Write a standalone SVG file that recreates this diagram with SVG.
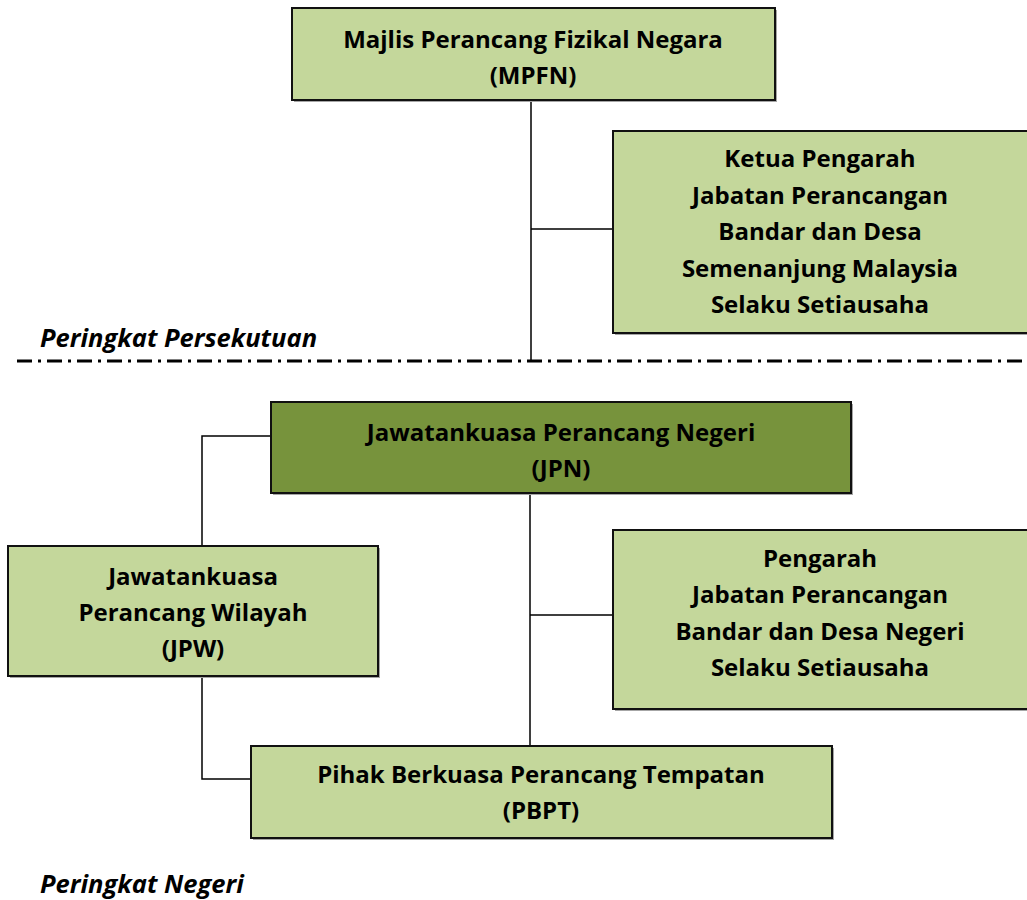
<svg xmlns="http://www.w3.org/2000/svg" width="1027" height="900" viewBox="0 0 1027 900">
<style>
.box{fill:#C4D79B;stroke:#111;stroke-width:2}
.dark{fill:#77933C;stroke:#111;stroke-width:2}
.sh{fill:#a6a6a6}
.t{font-family:"Open Sans",Lato,"Liberation Sans",sans-serif;font-weight:700;font-size:24px;fill:#000;text-anchor:middle}
.lvl{font-family:"Open Sans",Lato,"Liberation Sans",sans-serif;font-weight:700;font-style:italic;font-size:25.5px;fill:#000}
.c{fill:none;stroke:#000;stroke-width:1.5}
</style>
<rect width="1027" height="900" fill="#fff"/>
<g id="connectors">
<path class="c" d="M531 100V360M531 229H613"/>
<path class="c" d="M271 436H202V546M202 676V779H251"/>
<path class="c" d="M530 493V746M530 615H613"/>
</g>
<line id="divider" x1="17" y1="361" x2="1027" y2="361" stroke="#000" stroke-width="3" stroke-dasharray="15 6 3 6"/>
<g id="mpfn">
<rect class="sh" x="294" y="10" width="483" height="92"/>
<rect class="box" x="292" y="8" width="483" height="92"/>
<text class="t" x="533" y="48">Majlis Perancang Fizikal Negara</text>
<text class="t" x="533" y="84">(MPFN)</text>
</g>
<g id="ketua">
<rect class="sh" x="615" y="133" width="420" height="202"/>
<rect class="box" x="613" y="131" width="420" height="202"/>
<text class="t" x="820" y="167">Ketua Pengarah</text>
<text class="t" x="820" y="204">Jabatan Perancangan</text>
<text class="t" x="820" y="240">Bandar dan Desa</text>
<text class="t" x="820" y="277">Semenanjung Malaysia</text>
<text class="t" x="820" y="313">Selaku Setiausaha</text>
</g>
<text class="lvl" x="40" y="347">Peringkat Persekutuan</text>
<g id="jpn">
<rect class="sh" x="273" y="404" width="580" height="91"/>
<rect class="dark" x="271" y="402" width="580" height="91"/>
<text class="t" x="561" y="441">Jawatankuasa Perancang Negeri</text>
<text class="t" x="561" y="477">(JPN)</text>
</g>
<g id="jpw">
<rect class="sh" x="10" y="548" width="370" height="130"/>
<rect class="box" x="8" y="546" width="370" height="130"/>
<text class="t" x="193" y="585">Jawatankuasa</text>
<text class="t" x="193" y="621">Perancang Wilayah</text>
<text class="t" x="193" y="657">(JPW)</text>
</g>
<g id="pengarah">
<rect class="sh" x="615" y="532" width="420" height="179"/>
<rect class="box" x="613" y="530" width="420" height="179"/>
<text class="t" x="820" y="567">Pengarah</text>
<text class="t" x="820" y="603">Jabatan Perancangan</text>
<text class="t" x="820" y="640">Bandar dan Desa Negeri</text>
<text class="t" x="820" y="676">Selaku Setiausaha</text>
</g>
<g id="pbpt">
<rect class="sh" x="253" y="748" width="581" height="92"/>
<rect class="box" x="251" y="746" width="581" height="92"/>
<text class="t" x="541" y="783">Pihak Berkuasa Perancang Tempatan</text>
<text class="t" x="541" y="819">(PBPT)</text>
</g>
<text class="lvl" x="40" y="893">Peringkat Negeri</text>
</svg>
